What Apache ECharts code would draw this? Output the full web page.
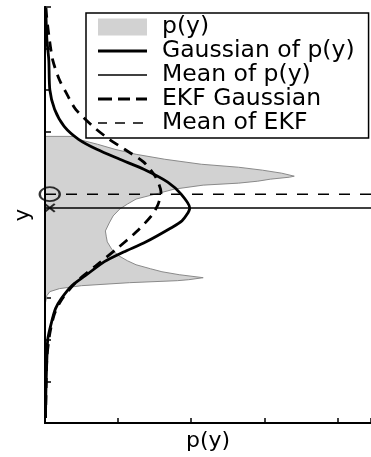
<!DOCTYPE html>
<html>
<head>
<meta charset="utf-8">
<script src="https://cdn.jsdelivr.net/npm/echarts@6/dist/echarts.min.js"></script>
<style>
  html, body { margin: 0; padding: 0; background: #fff; }
  #chart { width: 371px; height: 457px; }
</style>
</head>
<body>
<div id="chart"></div>
<script>
// Sampled density p(y): right boundary of the shaded region, top to bottom
const densityY = [6.890, 6.890, 6.818, 6.699, 6.579, 6.459, 6.340, 6.220, 6.148, 6.077, 6.005, 5.933,
  5.909, 5.861, 5.813, 5.766, 5.718, 5.622, 5.502, 5.383, 5.263, 5.144, 4.976, 4.809, 4.617, 4.474,
  4.354, 4.163, 4.019, 3.900, 3.804, 3.708, 3.636, 3.565, 3.493, 3.445, 3.421, 3.373, 3.301, 3.230,
  3.158, 3.062, 2.943, 2.847];
const densityP = [0, 0.420, 0.459, 0.721, 0.957, 1.246, 1.639, 2.138, 2.649, 2.977, 3.239, 3.410,
  3.344, 3.082, 2.911, 2.649, 2.164, 1.770, 1.508, 1.246, 1.128, 1.023, 0.931, 0.879, 0.826, 0.839,
  0.852, 0.918, 1.010, 1.128, 1.246, 1.443, 1.600, 1.836, 2.164, 1.967, 1.810, 1.154, 0.498, 0.197,
  0.066, 0.026, 0.013, 0];

// Gaussian fitted to p(y)
const gaussY = [9.98, 9.81, 9.21, 8.73, 8.01, 7.54, 7.13, 6.82, 6.58, 6.34, 6.10, 5.79, 5.50, 5.17,
  4.86, 4.67, 4.35, 4.11, 3.88, 3.54, 3.30, 2.99, 2.75, 2.44, 2.03, 1.56, 0.84, 0.12];
const gaussP = [0.010, 0.013, 0.026, 0.052, 0.066, 0.131, 0.262, 0.459, 0.708, 1.023, 1.351, 1.679,
  1.862, 1.980, 1.875, 1.705, 1.377, 1.075, 0.813, 0.551, 0.367, 0.223, 0.144, 0.092, 0.039, 0.026,
  0.013, 0.007];

// EKF Gaussian
const ekfY = [9.98, 9.81, 9.33, 8.73, 8.25, 7.94, 7.54, 7.13, 6.82, 6.58, 6.27, 5.93, 5.55, 5.26,
  4.98, 4.59, 4.19, 3.78, 3.40, 2.99, 2.63, 2.15, 1.56, 0.60, 0.12];
const ekfP = [0.012, 0.020, 0.052, 0.105, 0.197, 0.289, 0.420, 0.656, 0.879, 1.089, 1.351, 1.508,
  1.587, 1.548, 1.456, 1.246, 0.984, 0.695, 0.433, 0.236, 0.131, 0.066, 0.026, 0.013, 0.007];

// Means
const meanOfP = 5.17;
const meanOfEKF = 5.50;
const meanMarkerP = 0.065;

// Axis extents and tick step
const yMin = 0, yMax = 10, yStep = 1;
const xMin = 0, xMax = 4.46, xStep = 1;

const names = ['p(y)', 'Gaussian of p(y)', 'Mean of p(y)', 'EKF Gaussian', 'Mean of EKF'];

const zip = (ps, ys) => ps.map((p, i) => [p, ys[i]]);
const font = 'DejaVu Sans';

// Legend glyphs for the line entries (the leading moves fix the 49x17 icon box)
const box = 'M0,0M49,17';
const iconThick = 'path://' + box + 'M0,7h49v3h-49z';
const iconThin = 'path://' + box + 'M0,7.75h49v1.5h-49z';
const iconThickDash = 'path://' + box + 'M0,7h14v3h-14zM20,7h12v3h-12zM38,7h11v3h-11z';
const iconThinDash = 'path://' + box + 'M0,7.75h9v1.5h-9zM17,7.75h10v1.5h-10zM35,7.75h10v1.5h-10z';
const black = { color: '#000', borderWidth: 0 };

const chart = echarts.init(document.getElementById('chart'), null, { renderer: 'canvas' });
chart.setOption({
  animation: false,
  backgroundColor: '#fff',
  grid: { left: 45, top: 7, right: -14, bottom: 32 },
  legend: {
    orient: 'vertical',
    left: 86,
    top: 13,
    padding: [2, 14, 3, 12],
    itemGap: 0,
    itemWidth: 49,
    itemHeight: 17,
    backgroundColor: '#fff',
    borderColor: '#000',
    borderWidth: 1.5,
    borderRadius: 0,
    textStyle: { fontFamily: font, fontSize: 23.5, color: '#000', lineHeight: 23.25, padding: [0, 0, 0, 10] },
    data: [
      { name: names[0], icon: 'rect', itemStyle: { color: '#d2d2d2', borderWidth: 0 } },
      { name: names[1], icon: iconThick, itemStyle: black },
      { name: names[2], icon: iconThin, itemStyle: black },
      { name: names[3], icon: iconThickDash, itemStyle: black },
      { name: names[4], icon: iconThinDash, itemStyle: black }
    ]
  },
  xAxis: {
    type: 'value', min: xMin, max: xMax, interval: xStep,
    name: 'p(y)', nameLocation: 'middle', nameGap: 7,
    nameTextStyle: { fontFamily: font, fontSize: 22, color: '#000' },
    axisLine: { show: true, onZero: false, lineStyle: { color: '#000', width: 2 } },
    axisTick: { show: true, inside: true, length: 5, lineStyle: { color: '#000', width: 1.5 } },
    axisLabel: { show: false },
    splitLine: { show: false }
  },
  yAxis: [
    {
      type: 'value', min: yMin, max: yMax, interval: yStep,
      name: 'y', nameLocation: 'middle', nameGap: 11,
      nameTextStyle: { fontFamily: font, fontSize: 21, color: '#000' },
      axisLine: { show: true, onZero: false, lineStyle: { color: '#000', width: 2 } },
      axisTick: { show: true, inside: true, length: 6, lineStyle: { color: '#000', width: 1.5 } },
      axisLabel: { show: false },
      splitLine: { show: false }
    },
    {
      // axis line redrawn above the shaded density
      type: 'value', min: yMin, max: yMax, interval: yStep, position: 'left', z: 10,
      axisLine: { show: true, onZero: false, lineStyle: { color: '#000', width: 2 } },
      axisTick: { show: false }, axisLabel: { show: false }, splitLine: { show: false }
    }
  ],
  series: [
    {
      name: names[0],
      type: 'custom',
      itemStyle: { color: '#d2d2d2' },
      data: [[0, densityY[0]]],
      renderItem: function (params, api) {
        const pts = densityP.map((p, i) => api.coord([p, densityY[i]]));
        return {
          type: 'polygon',
          shape: { points: pts },
          style: { fill: '#d2d2d2', stroke: '#8a8a8a', lineWidth: 1 }
        };
      },
      z: 1
    },
    {
      name: names[1], type: 'line', data: zip(gaussP, gaussY), symbol: 'none', smooth: 0.25,
      lineStyle: { color: '#000', width: 2.8 }, itemStyle: { color: '#000' }, z: 4
    },
    {
      name: names[2], type: 'line', data: [[xMin, meanOfP], [xMax, meanOfP]], symbol: 'none',
      lineStyle: { color: '#000', width: 1.6 }, itemStyle: { color: '#000' }, z: 3
    },
    {
      name: names[3], type: 'line', data: zip(ekfP, ekfY), symbol: 'none', smooth: 0.25,
      lineStyle: { color: '#000', width: 2.8, type: [10, 7] }, itemStyle: { color: '#000' }, z: 4
    },
    {
      name: names[4], type: 'line', data: [[xMin, meanOfEKF], [xMax, meanOfEKF]], symbol: 'none',
      lineStyle: { color: '#000', width: 1.6, type: [11, 10] }, itemStyle: { color: '#000' }, z: 3
    },
    {
      type: 'scatter', data: [[meanMarkerP, meanOfEKF]], symbol: 'circle', symbolSize: [20, 14],
      itemStyle: { color: 'rgba(0,0,0,0)', borderColor: '#000', borderWidth: 2 }, z: 5, silent: true
    },
    {
      type: 'scatter', data: [[meanMarkerP, meanOfP]], symbol: 'path://M0,0L10,8M10,0L0,8', symbolSize: [10, 8],
      itemStyle: { color: 'rgba(0,0,0,0)', borderColor: '#000', borderWidth: 2 }, z: 5, silent: true
    }
  ]
});
</script>
</body>
</html>
